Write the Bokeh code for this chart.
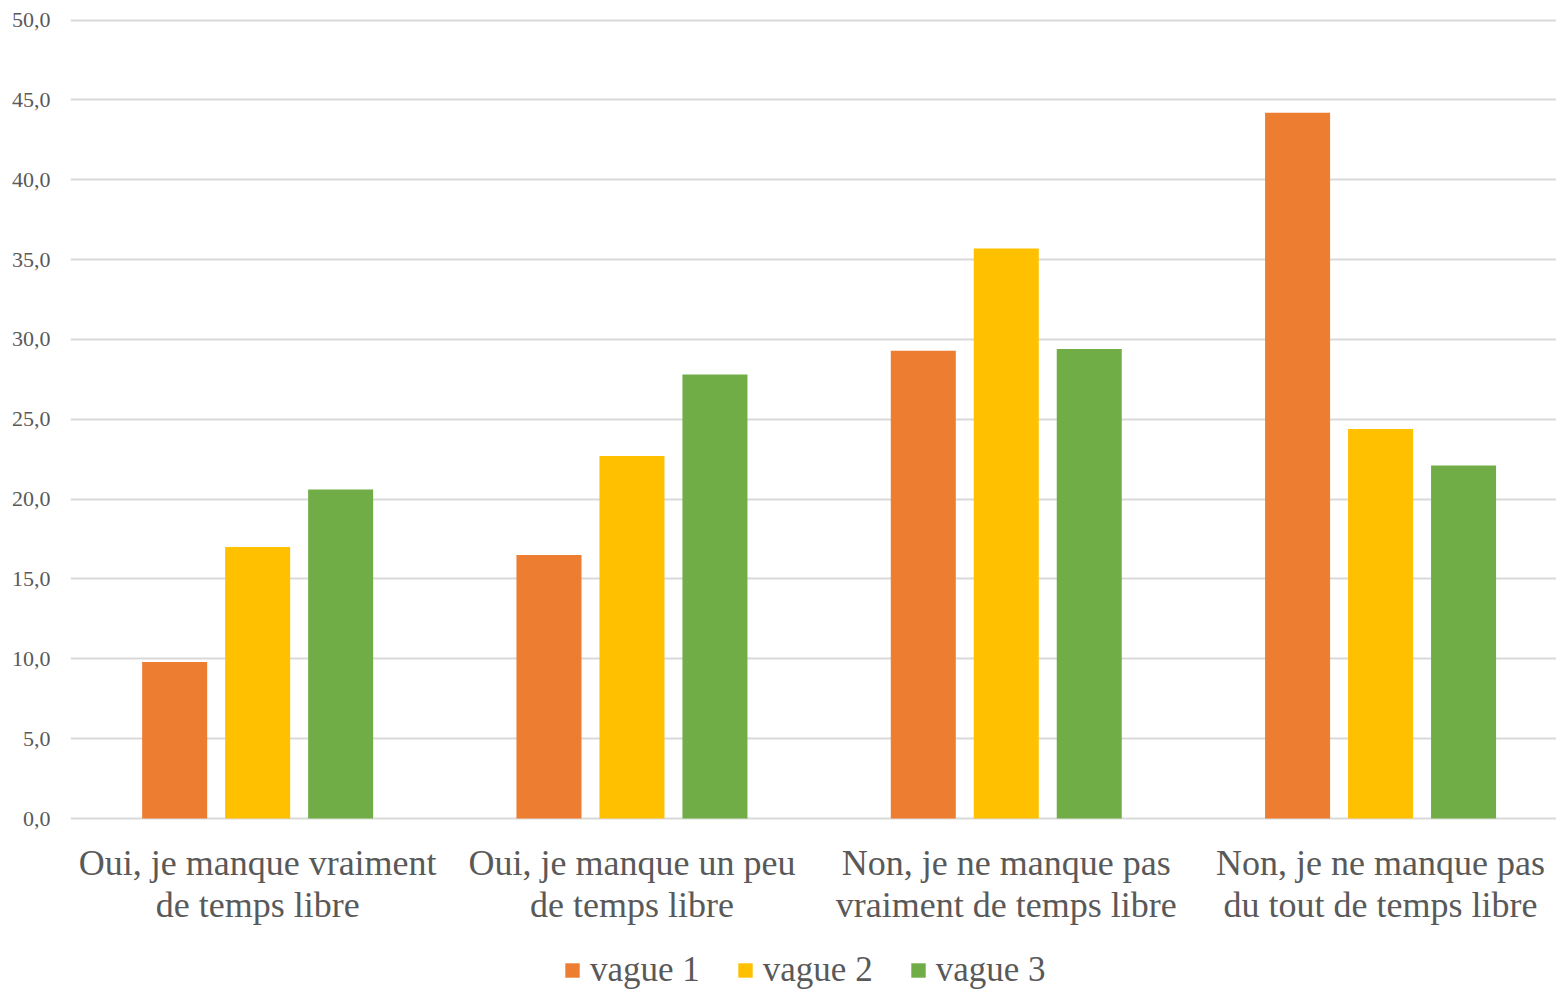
from bokeh.plotting import figure
from bokeh.models import (Range1d, Legend, LegendItem, FixedTicker, ColumnDataSource)
from bokeh.core.properties import value
from bokeh.transform import dodge
from bokeh.embed import file_html
from bokeh.resources import INLINE

categories = [
    "Oui, je manque vraiment de temps libre",
    "Oui, je manque un peu de temps libre",
    "Non, je ne manque pas vraiment de temps libre",
    "Non, je ne manque pas du tout de temps libre",
]
label_line1 = ["Oui, je manque vraiment", "Oui, je manque un peu",
               "Non, je ne manque pas", "Non, je ne manque pas"]
label_line2 = ["de temps libre", "de temps libre",
               "vraiment de temps libre", "du tout de temps libre"]
vague1 = [9.8, 16.5, 29.3, 44.2]
vague2 = [17.0, 22.7, 35.7, 24.4]
vague3 = [20.6, 27.8, 29.4, 22.1]
series_names = ["vague 1", "vague 2", "vague 3"]
colors = ["#ED7D31", "#FFC000", "#70AD47"]
y_ticks = [0, 5, 10, 15, 20, 25, 30, 35, 40, 45, 50]

FONT = "Liberation Serif"
TXT = "#595959"

# category i is centred at i + 0.5 on a numeric axis
cat_pos = [i + 0.5 for i in range(len(categories))]
src = ColumnDataSource(dict(cat=categories, pos=cat_pos, v1=vague1, v2=vague2, v3=vague3,
                            line1=label_line1, line2=label_line2))

# the frame extends below 0 so the category labels and legend sit inside it
p = figure(x_range=Range1d(0, 3.97), y_range=Range1d(-10.77, 50.1),
           frame_width=1486, frame_height=972, output_backend="svg", toolbar_location=None,
           x_axis_location=None,
           min_border_left=70, min_border_right=0, min_border_top=18, min_border_bottom=0)

step = 0.2217
bw = 0.1737
renderers = []
for i, (col, c) in enumerate(zip(["v1", "v2", "v3"], colors)):
    r = p.vbar(x=dodge("pos", (i - 1) * step), top=col, width=bw,
               source=src, fill_color=c, line_color=None)
    renderers.append(r)

p.outline_line_color = None
p.xgrid.grid_line_color = None
p.ygrid.grid_line_color = "#d9d9d9"
p.ygrid.grid_line_width = 2

p.yaxis.ticker = FixedTicker(ticks=y_ticks)
p.yaxis.major_label_overrides = {t: f"{t:.1f}".replace(".", ",") for t in y_ticks}
p.yaxis.axis_line_color = None
p.yaxis.major_tick_line_color = None
p.yaxis.minor_tick_line_color = None
p.yaxis.major_tick_in = 0
p.yaxis.major_tick_out = 0
p.yaxis.major_label_text_font = FONT
p.yaxis.major_label_text_font_size = "22px"
p.yaxis.major_label_text_color = TXT
p.yaxis.major_label_standoff = 20

# two-line category labels under each group
for field, y in (("line1", -2.755), ("line2", -5.386)):
    p.text(x="pos", y=y, text=field, source=src,
           text_font=value(FONT), text_font_size="36px", text_color=TXT,
           text_align="center", text_baseline="middle")

legend = Legend(items=[LegendItem(label=n, renderers=[r]) for n, r in zip(series_names, renderers)],
                orientation="horizontal", location=(493, 0),
                label_text_font=FONT, label_text_font_size="35px", label_text_color=TXT,
                glyph_width=18, glyph_height=18, spacing=36, label_standoff=9,
                border_line_color=None, background_fill_alpha=0, padding=0, margin=0)
p.add_layout(legend, "center")

open("out.html", "w").write(file_html(p, INLINE))
